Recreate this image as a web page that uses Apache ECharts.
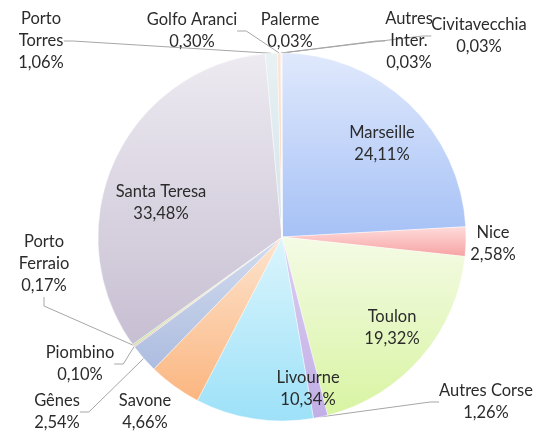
<!DOCTYPE html>
<html><head><meta charset="utf-8">
<script src="https://cdn.jsdelivr.net/npm/echarts@6/dist/echarts.min.js"></script>
<style>html,body{margin:0;padding:0;background:#fff}#c{width:551px;height:434px}</style>
</head><body><div id="c"></div>
<script>
// ---- data ----
const categories = ['Marseille','Nice','Toulon','Autres Corse','Livourne','Savone','Gênes','Piombino','Porto Ferraio','Santa Teresa','Porto Torres','Golfo Aranci','Palerme','Autres Inter.','Civitavecchia'];
const shares = [24.11,2.58,19.32,1.26,10.34,4.66,2.54,0.10,0.17,33.48,1.06,0.30,0.03,0.03,0.03];
const labelNames = ['Marseille','Nice','Toulon','Autres Corse','Livourne','Savone','Gênes','Piombino','Porto\nFerraio','Santa Teresa','Porto\nTorres','Golfo Aranci','Palerme','Autres\nInter.','Civitavecchia'];
const noLineLabels = ['Marseille','Toulon','Livourne','Santa Teresa','Nice','Savone'];

// ---- layout / style (not data) ----
const labelPos = {
  'Marseille':[382,144], 'Nice':[493,244], 'Toulon':[392,328], 'Autres Corse':[486,402],
  'Livourne':[308,389], 'Savone':[145,412], 'Gênes':[57,412], 'Piombino':[80,364],
  'Porto Ferraio':[44,264], 'Santa Teresa':[161,203], 'Porto Torres':[41,41],
  'Golfo Aranci':[192,31], 'Palerme':[290,31], 'Autres Inter.':[409,41], 'Civitavecchia':[479,36]
};
const gradients = [
  ['#e0e9fc','#a6c1f6'], ['#ffdcdc','#f6a2a2'], ['#f4fbe5','#d8f4a2'], ['#dccff1','#c1aee6'],
  ['#dbf5fd','#9de1f8'], ['#fde4cf','#fbb680'], ['#d3dcee','#adbde0'], ['#f3caca','#e6aeae'],
  ['#e3f0ca','#c8e19e'], ['#edeaf1','#c7bfd2'], ['#e9f1f3','#d1e3e9'], ['#fde5d6','#fbcfb8'],
  ['#dfe8fb','#c5d7f8'], ['#ffdcdc','#f9c0c0'], ['#f0f8df','#ddefb8']
];

const fmt = v => v.toFixed(2).replace('.', ',') + '%';

const data = categories.map((name, i) => ({
  name: name,
  value: shares[i],
  itemStyle: {
    color: new echarts.graphic.LinearGradient(0, 0, 0, 1, [
      {offset: 0, color: gradients[i][0]}, {offset: 1, color: gradients[i][1]}
    ])
  },
  labelLine: { show: !noLineLabels.includes(name) }
}));

const chart = echarts.init(document.getElementById('c'), null, {renderer: 'canvas'});
chart.setOption({
  animation: false,
  series: [{
    type: 'pie',
    center: [282, 237],
    radius: 184,
    startAngle: 90,
    clockwise: true,
    avoidLabelOverlap: false,
    minShowLabelAngle: 0,
    data: data,
    itemStyle: { borderColor: 'rgba(255,255,255,0.7)', borderWidth: 0.6 },
    label: {
      show: true,
      position: 'outside',
      formatter: p => labelNames[p.dataIndex] + '\n' + fmt(p.value),
      fontFamily: 'Lato',
      fontSize: 16.5,
      lineHeight: 22,
      color: '#2b2b2b',
      align: 'center'
    },
    labelLine: {
      show: true,
      length: 10,
      length2: 9,
      smooth: false,
      lineStyle: { color: '#a6a6a6', width: 1 }
    },
    labelLayout: function (params) {
      const p = labelPos[categories[params.dataIndex]];
      return { x: p[0], y: p[1], align: 'center', verticalAlign: 'middle', hideOverlap: false };
    },
    emphasis: { disabled: true }
  }]
});
</script>
</body></html>
